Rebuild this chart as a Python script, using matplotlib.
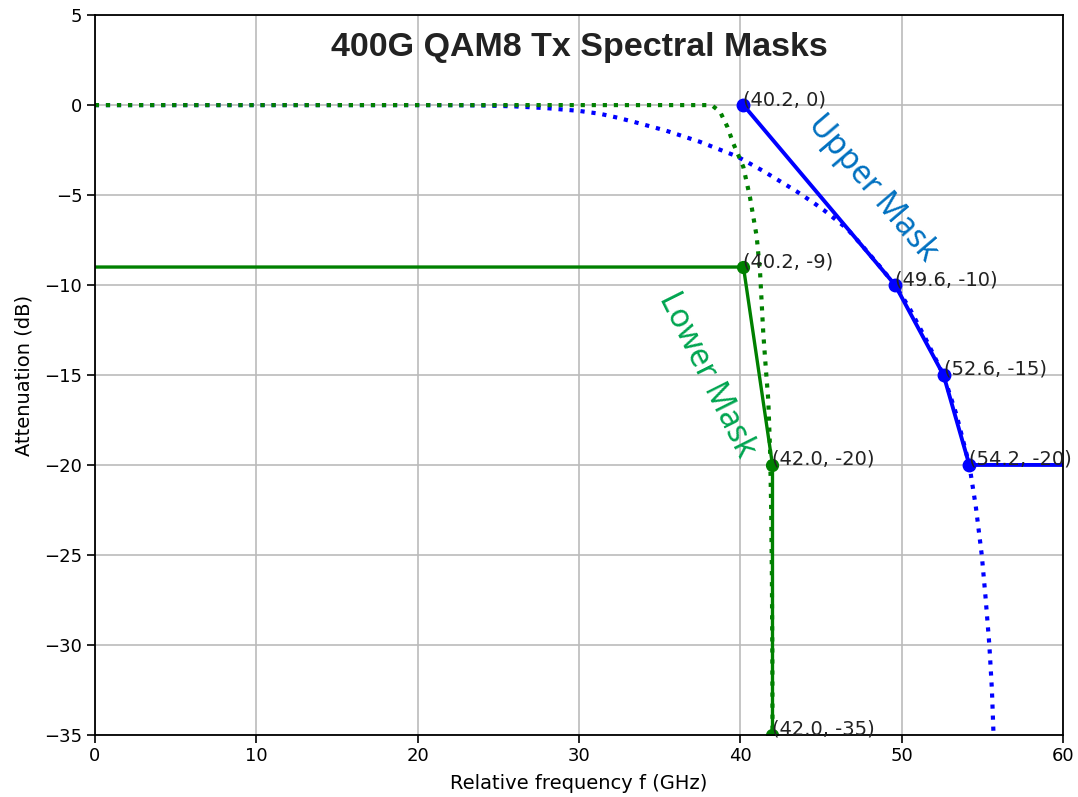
import matplotlib
matplotlib.use("Agg")
import matplotlib.pyplot as plt

# Mask corner points
upper_f = [40.2, 49.6, 52.6, 54.2]
upper_db = [0, -10, -15, -20]
lower_f = [40.2, 42.0, 42.0]
lower_db = [-9, -20, -35]

# Reference responses
upper_resp_f = [0, 10, 20, 22, 24, 26, 28, 30, 31.3, 32.4, 33.4, 35.4, 37.5, 39.6, 40,
                41.4, 42.5, 43.5, 44.5, 45.2, 46.6, 47.5, 48.5, 49.6, 50.5, 51.5, 52.6,
                53.4, 54.2, 54.6, 54.97, 55.2, 55.44, 55.6, 55.7]
upper_resp_db = [0, 0, 0, -0.005, -0.02, -0.07, -0.17, -0.32, -0.48, -0.7, -0.93, -1.42,
                 -2.04, -2.78, -2.95, -3.65, -4.25, -4.8, -5.4, -5.85, -6.85, -7.75,
                 -8.8, -10.0, -11.3, -13.0, -15.0, -17.2, -20.0, -22.3, -25.0, -27.3,
                 -30.0, -32.5, -35.0]
lower_resp_f = [0, 10, 20, 30, 36, 38.0, 38.3, 38.75, 39.2, 39.57, 40.19, 40.6, 41.02,
                41.23, 41.43, 41.6, 41.74, 41.85, 41.92, 41.96, 41.99, 42.0]
lower_resp_db = [0, 0, 0, 0, 0, 0, -0.05, -0.37, -1.2, -2.13, -3.43, -5.1, -7.3,
                 -9.3, -12.7, -14.8, -16.4, -19.2, -22.5, -26.0, -30.5, -35.0]

labels_upper = ["(40.2, 0)", "(49.6, -10)", "(52.6, -15)", "(54.2, -20)"]
labels_lower = ["(40.2, -9)", "(42.0, -20)", "(42.0, -35)"]

fig, ax = plt.subplots(figsize=(10.78, 7.97), dpi=100)
fig.subplots_adjust(left=0.088, right=0.986, top=0.981, bottom=0.078)

ax.plot(upper_resp_f, upper_resp_db, ':', color='blue', lw=3)
ax.plot(lower_resp_f, lower_resp_db, ':', color='green', lw=3)

ax.plot(upper_f + [60], upper_db + [-20], '-', color='blue', lw=2.8)
ax.plot(upper_f, upper_db, 'o', color='blue', ms=9)
ax.plot([0] + lower_f, [-9] + lower_db, '-', color='green', lw=2.4)
ax.plot(lower_f, lower_db, 'o', color='green', ms=8.5)

for f, d, s in zip(upper_f, upper_db, labels_upper):
    ax.text(f, d, s, fontsize=14, color='#222222')
for f, d, s in zip(lower_f, lower_db, labels_lower):
    ax.text(f, d, s, fontsize=14, color='#222222')

ax.text(48.2, -4.6, "Upper Mask", rotation=-49.5, fontsize=23, color='#0070C0',
        family='Noto Sans', ha='center', va='center', rotation_mode='anchor')
ax.text(37.9, -15.0, "Lower Mask", rotation=-63.5, fontsize=23, color='#00A550',
        family='Noto Sans', ha='center', va='center', rotation_mode='anchor')

ax.text(0.5, 0.955, "400G QAM8 Tx Spectral Masks", transform=ax.transAxes,
        ha='center', va='center', fontsize=24.5, fontweight='bold',
        family='Liberation Sans', color='#222222')

ax.set_xlim(0, 60)
ax.set_ylim(-35, 5)
ax.set_xlabel("Relative frequency f (GHz)", fontsize=14, labelpad=6)
ax.set_ylabel("Attenuation (dB)", fontsize=14, labelpad=8)
ax.tick_params(labelsize=13, length=5.5, width=1.2)
ax.grid(True, color='#bbbbbb', lw=1.2)
for sp in ax.spines.values():
    sp.set_linewidth(1.3)

fig.savefig("out.png", dpi=100)
